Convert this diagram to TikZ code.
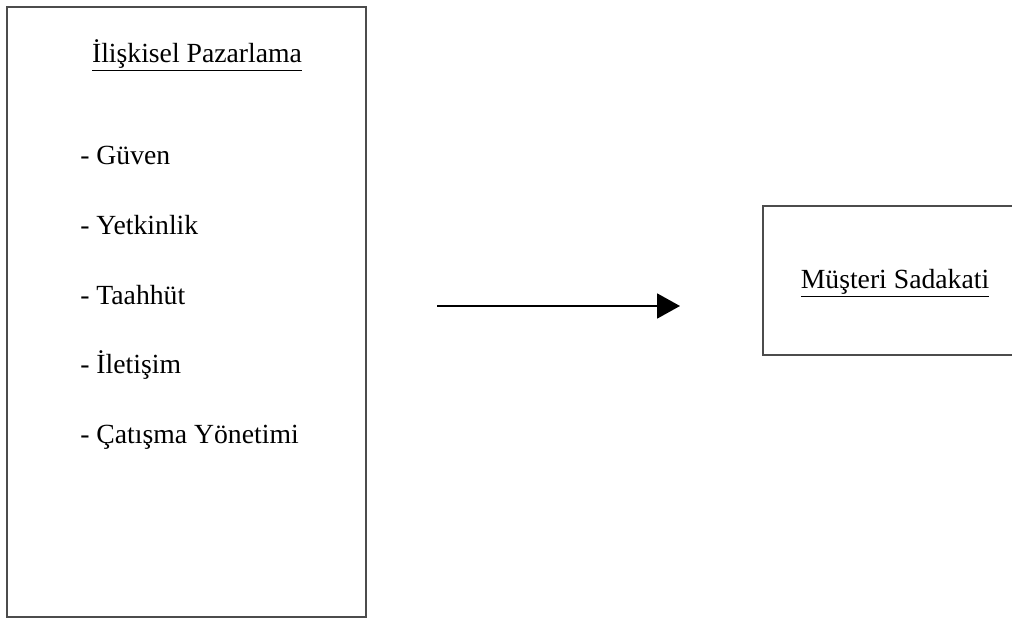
\documentclass[tikz,border=0pt]{standalone}
\usepackage{fontspec}
\setmainfont{Liberation Serif}
\usetikzlibrary{arrows.meta}
\usetikzlibrary{positioning}

\begin{document}
\begin{tikzpicture}
      [every node part/.style={align=center},
       font=\fontsize{19.7}{23}\selectfont,
       box/.style={draw=black!70, line width=1.5pt, inner sep=0pt},
       item/.style={anchor=west, inner sep=0pt}]
      \clip (0, 0) rectangle (25.3, 15.475);

      \node (pazarlama) [box, minimum width=8.975cm, minimum height=15.25cm] at (4.6625, 7.675) {};
      \node (sadakat) [box, minimum width=6.925cm, minimum height=3.725cm] at (22.5375, 8.4625) {};

      \node (baslik) [] at (4.925, 14.1) {\underline{İlişkisel Pazarlama}};
      \node (guven) [item] at (2.0, 11.6) {- Güven};
      \node (yetkinlik) [item] at (2.0, 9.85) {- Yetkinlik};
      \node (taahhut) [item] at (2.0, 8.1) {- Taahhüt};
      \node (iletisim) [item] at (2.0, 6.35) {- İletişim};
      \node (catisma) [item] at (2.0, 4.55) {- Çatışma Yönetimi};

      \node (musteri) [] at (22.375, 8.4) {\underline{Müşteri Sadakati}};

      \coordinate (from) at (10.925, 7.825);
      \coordinate (to) at (17.0, 7.825);
      \draw [-{Triangle[length=5.7mm, width=6.2mm]}, line width=1.4pt] (from) -- (to);

    \end{tikzpicture}
\end{document}
